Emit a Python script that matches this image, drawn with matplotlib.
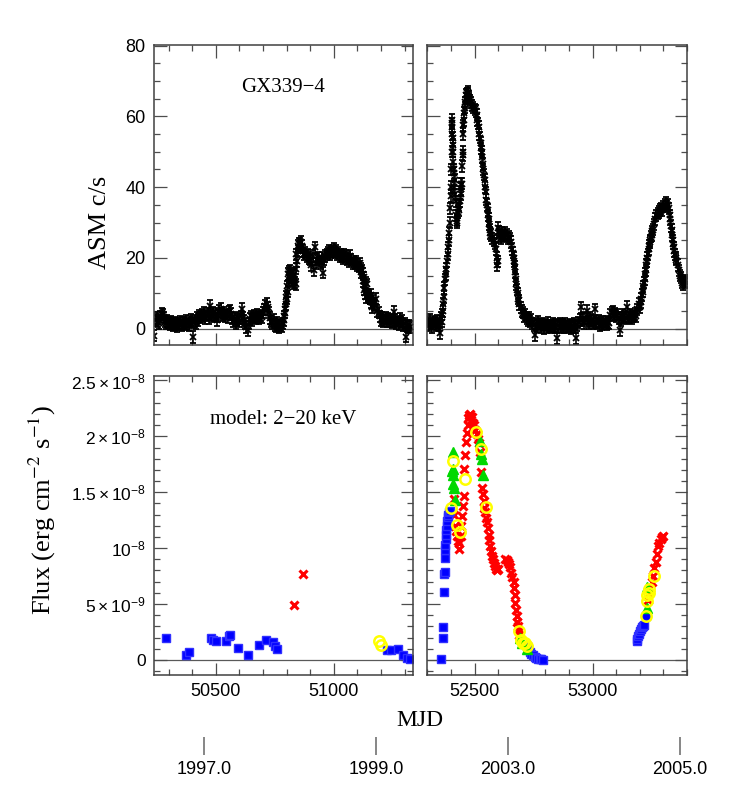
import numpy as np
import matplotlib
matplotlib.use("Agg")
import matplotlib.pyplot as plt
from matplotlib.ticker import MultipleLocator, FixedLocator, FixedFormatter

plt.rcParams['font.family'] = ['Liberation Sans', 'DejaVu Sans']
plt.rcParams['mathtext.fontset'] = 'custom'
plt.rcParams['mathtext.rm'] = 'Liberation Sans'
plt.rcParams['mathtext.it'] = 'Liberation Sans:italic'

# ---- RXTE/ASM light curve, 5 day sampling ----
asm_left_mjd = np.arange(50240, 51326, 5)
asm_left_rate = [
    -2.0, 2.5, 3.0, 2.0, 1.5, 3.5, 4.3, 4.0, 3.2, 2.0,
    1.5, 2.2, 1.8, 1.2, 2.0, 1.5, 1.0, 1.8, 1.3, 0.8,
    1.5, 1.2, 2.0, 1.0, 1.6, 1.8, 1.2, 2.2, 1.5, 1.0,
    2.0, 2.5, 1.8, -2.3, 2.2, 1.5, 3.0, 2.5, 3.8, 3.2,
    4.0, 3.5, 4.5, 3.0, 3.8, 4.2, 3.0, 6.5, 4.0, 3.5,
    4.5, 3.8, 4.2, 2.5, 3.6, 5.0, 5.7, 4.2, 3.8, 4.5,
    3.5, 4.0, 3.2, 4.8, 5.0, 4.2, 3.0, 2.2, 2.8, 1.5,
    2.5, 3.0, 2.0, 3.5, 5.7, 3.0, 2.2, 1.5, 0.5, -0.5,
    1.5, 2.8, 3.5, 2.5, 3.8, 3.2, 2.8, 4.0, 3.5, 3.0,
    3.8, 3.2, 4.5, 5.5, 6.5, 7.0, 6.0, 4.5, 3.0, 2.0,
    1.5, 2.5, 1.0, 0.8, 1.8, 1.2, 0.5, 1.0, 0.8, 1.5,
    3.5, 5.5, 8.5, 10.5, 14.5, 16.5, 15.0, 14.0, 15.5, 13.0,
    12.5, 19.0, 22.0, 24.0, 24.5, 23.5, 22.0, 21.0, 21.5, 20.5,
    21.0, 20.0, 19.5, 18.0, 20.5, 16.5, 23.0, 18.5, 19.5, 20.0,
    19.0, 18.5, 20.0, 15.8, 19.5, 20.5, 21.0, 21.5, 22.0, 21.0,
    21.5, 22.0, 22.5, 21.5, 22.0, 21.0, 21.5, 20.5, 21.0, 20.5,
    20.0, 21.0, 20.5, 19.5, 20.0, 19.0, 20.5, 19.5, 18.5, 19.0,
    18.5, 19.0, 18.0, 17.5, 18.5, 17.0, 16.5, 15.5, 14.5, 13.0,
    12.5, 9.5, 9.0, 8.5, 9.5, 8.0, 7.0, 6.5, 8.5, 5.0,
    4.5, 3.5, 2.5, 3.0, 2.0, 2.5, 3.0, 2.2, 2.8, 2.0,
    2.5, 1.8, 2.2, 4.8, 2.5, 1.5, 2.0, 1.2, 2.8, 1.8,
    2.2, 1.0, 1.5, -2.2, 0.8, 0.5, 1.0, 0.5,
]
# extra daily points where the source changes quickly
asm_left_extra_mjd = [50788, 50792, 50797, 50799, 50802, 50807, 50812, 50817, 50822,
                      50827, 50832, 50838, 50842, 50847, 50852, 50857,
                      51117, 51122, 51127, 51132, 51137, 51152, 51157, 51162]
asm_left_extra_rate = [2.5, 4.5, 7.0, 9.0, 12.0, 15.5, 16.0, 14.5, 13.5,
                       15.0, 12.8, 17.0, 21.0, 23.5, 24.0, 23.0,
                       16.0, 13.5, 11.0, 10.0, 9.0, 8.5, 7.5, 6.0]

asm_right_mjd = np.arange(52300, 53396, 5)
asm_right_rate = [
    2.0, 1.0, 2.5, 1.5, 0.5, 2.0, 1.8, 1.0, 2.2, 1.5,
    1.0, -1.3, 2.0, 5.0, 9.0, 14.0, 17.0, 21.0, 25.0, 30.0,
    40.0, 59.0, 50.0, 42.0, 36.0, 30.0, 33.0, 35.0, 38.0, 41.0,
    50.0, 61.0, 64.0, 66.0, 66.5, 65.5, 64.5, 64.0, 63.0, 62.5,
    62.0, 61.5, 60.5, 58.0, 55.0, 52.5, 50.0, 46.5, 43.5, 40.0,
    36.5, 33.5, 31.0, 28.0, 26.5, 25.5, 25.0, 24.0, 22.5, 18.0,
    28.5, 26.0, 25.5, 27.0, 26.5, 26.0, 27.0, 26.5, 25.5, 26.0,
    25.5, 24.5, 22.5, 20.0, 17.5, 14.0, 11.0, 8.5, 7.0, 6.0,
    5.0, 4.5, 3.5, 4.0, 3.0, 2.5, 3.0, 2.0, 2.5, 1.5,
    1.0, -1.8, 1.5, 0.8, 2.0, 1.2, 0.5, 1.5, 1.0, 0.2,
    1.2, 0.5, 1.8, 0.8, 1.0, 0.3, 1.5, 0.8, 0.5, 1.2,
    -2.7, 0.8, 1.5, 0.5, 1.2, 0.8, 0.3, 1.5, 0.5, 1.0,
    0.6, 1.2, 0.2, 0.8, 1.5, 0.5, -2.7, 1.0, 1.8, 2.5,
    6.0, 2.5, 3.0, 1.5, 2.8, 5.0, 2.0, 1.5, 3.2, 2.5,
    1.5, 2.0, 5.5, 1.8, 1.5, 2.2, 1.0, 1.8, 1.2, 2.0,
    1.5, 2.0, 1.2, 1.8, 1.5, 4.0, 4.5, 4.8, 3.8, 4.2,
    3.5, 4.0, 3.0, -0.4, 2.5, 3.2, 4.0, 3.5, 3.0, 6.2,
    3.5, 3.2, 4.0, 3.0, 3.5, 3.8, 4.2, 3.5, 5.5, 7.0,
    6.0, 7.5, 9.5, 12.0, 14.0, 16.5, 19.0, 21.0, 23.5, 25.0,
    26.5, 28.0, 29.5, 31.0, 32.0, 32.5, 33.0, 33.5, 34.0, 33.5,
    34.5, 35.0, 35.5, 34.5, 35.0, 34.0, 32.0, 28.0, 25.0, 23.0,
    21.0, 19.5, 18.0, 16.5, 15.0, 14.5, 13.0, 12.5, 13.5, 13.0,
]
asm_right_extra_mjd = [52357, 52362, 52367, 52372, 52377, 52382, 52387, 52392, 52397,
                       52399, 52401, 52402, 52403, 52404, 52406, 52407, 52408, 52409,
                       52411, 52412, 52413, 52417, 52422, 52427, 52432, 52437, 52442,
                       52444, 52447, 52449, 52451, 52452, 52453, 52457, 52462, 52467,
                       52472, 52477,
                       52512, 52517, 52522, 52527, 52532, 52537, 52542, 52547, 52552,
                       52557, 52562, 52567, 52593, 52597, 52603,
                       52662, 52667, 52672, 52677, 52682, 52687,
                       53207, 53212, 53217, 53222, 53227, 53232, 53237, 53242, 53247,
                       53252, 53327, 53332, 53337, 53342, 53347, 53352]
asm_right_extra_rate = [3.0, 4.0, 7.0, 11.5, 15.5, 19.0, 23.0, 27.0, 34.0,
                        37.5, 45.0, 50.0, 55.0, 58.0, 57.0, 54.0, 52.0, 47.0,
                        45.0, 44.0, 40.0, 38.0, 32.0, 30.5, 33.5, 36.0, 39.5,
                        41.0, 46.0, 49.0, 55.0, 57.5, 59.0, 62.5, 65.0, 66.5,
                        67.0, 65.0,
                        59.0, 57.0, 54.0, 51.0, 48.5, 45.0, 42.0, 38.5, 35.0,
                        32.0, 29.5, 27.0, 20.0, 19.0, 27.5,
                        21.5, 19.0, 16.0, 12.5, 10.0, 8.0,
                        8.5, 10.5, 13.0, 15.5, 18.0, 20.0, 22.5, 24.5, 26.0,
                        27.5, 31.0, 29.0, 26.5, 24.0, 22.0, 20.0]
asm_err = 1.6

# ---- model flux 2-20 keV, units of 1e-9 erg/cm2/s ----
blue_mjd = [50289, 50374, 50387, 50480, 50490, 50500, 50544, 50554, 50561,
            50596, 50636, 50684, 50713, 50744, 50751, 50758,
            51226, 51244, 51272, 51295, 51309, 51323,
            52358, 52365, 52366, 52369, 52372, 52373, 52374, 52375, 52376,
            52377, 52378, 52379, 52381, 52383, 52386, 52389, 52393, 52397,
            52720, 52727, 52733, 52740, 52747, 52754, 52761, 52768, 52775,
            52782, 52790,
            53187, 53190, 53194, 53197, 53201, 53205, 53210, 53215, 53219, 53227]
blue_flux = [2.0, 0.45, 0.7, 2.0, 1.8, 1.65, 1.65, 2.1, 2.2,
             1.1, 0.45, 1.3, 1.75, 1.6, 1.25, 0.95,
             0.87, 0.87, 0.96, 0.48, 0.21, 0.06,
             0.06, 1.95, 2.9, 6.1, 7.7, 7.9, 9.1, 9.8, 10.3,
             10.8, 11.2, 11.6, 12.0, 12.4, 12.8, 13.0, 13.2, 13.3,
             1.2, 0.95, 0.75, 0.55, 0.4, 0.28, 0.18, 0.12, 0.08,
             0.05, 0.03,
             1.65, 1.85, 2.1, 2.35, 2.55, 2.75, 2.9, 3.0, 3.1, 3.95]

red_mjd = [50830, 50871,
           52411, 52414, 52418, 52421, 52425, 52428, 52432, 52435, 52440, 52443,
           52446, 52449, 52454, 52456, 52461, 52465, 52468, 52470, 52473, 52476,
           52479, 52482, 52486, 52490, 52494, 52498, 52503, 52508, 52513, 52517,
           52521, 52528, 52531, 52534, 52538, 52541, 52545, 52548, 52552, 52555,
           52559, 52562, 52566, 52570, 52574, 52577, 52581, 52585, 52589, 52593,
           52598, 52630, 52635, 52640, 52645, 52650, 52655, 52660, 52665, 52668,
           52670, 52672, 52675, 52678, 52680, 52683, 52687, 52690,
           53236, 53240, 53245, 53250, 53256, 53262, 53268, 53272, 53276, 53282,
           53288, 53295, 53300]
red_flux = [4.95, 7.7,
            14.4, 13.0, 12.0, 11.5, 11.1, 10.6, 9.9, 10.5, 11.1, 12.0,
            12.9, 13.8, 14.7, 17.1, 18.3, 19.5, 20.3, 21.0, 21.6, 21.9,
            22.0, 21.8, 21.5, 21.7, 21.2, 21.0, 20.6, 20.2, 19.8, 19.4,
            18.6, 16.8, 15.4, 14.8, 14.2, 13.6, 13.2, 12.7, 12.3, 11.8,
            11.2, 10.7, 10.2, 9.7, 9.3, 9.0, 8.7, 8.4, 8.1, 8.0,
            8.1, 9.0, 8.9, 8.8, 8.6, 8.3, 7.8, 7.4, 7.0, 6.4,
            5.8, 5.1, 4.5, 3.9, 3.4, 3.0, 2.6, 2.2,
            5.4, 6.0, 6.4, 7.0, 7.5, 8.2, 8.8, 9.5, 10.2, 10.5,
            10.8, 11.0, 11.1]

green_mjd = [52404, 52407, 52407, 52408, 52408, 52411, 52418,
             52524, 52527, 52530, 52535, 52694, 52701, 52722, 53229, 53232]
green_flux = [16.9, 17.1, 15.7, 18.6, 16.5, 15.4, 14.3,
              19.6, 18.4, 18.0, 16.5, 1.95, 1.5, 0.96, 4.6, 6.5]

yellow_mjd = [51192, 51202, 52400, 52410, 52425, 52437, 52458, 52504, 52527,
              52550, 52687, 52698, 52705, 52715, 52722,
              53227, 53229, 53232, 53237, 53240, 53261]
yellow_flux = [1.65, 1.35, 13.6, 17.8, 12.1, 11.45, 16.2, 20.4, 18.9,
               13.7, 2.6, 1.8, 1.55, 1.5, 1.2,
               3.95, 5.25, 5.85, 6.0, 6.35, 7.5]

flux_ticks = [0, 5e-9, 1e-8, 1.5e-8, 2e-8, 2.5e-8]
flux_tick_labels = ['0', r'$5\times10^{-9}$', r'$10^{-8}$', r'$1.5\times10^{-8}$',
                    r'$2\times10^{-8}$', r'$2.5\times10^{-8}$']

year_mjd = [50449, 51179, 52640, 53371]
year_labels = ['1997.0', '1999.0', '2003.0', '2005.0']

left_lim = (50238, 51336)
right_lim = (52298, 53400)

serif = ['Liberation Serif', 'DejaVu Serif']
tick_col = '0.3'

fig = plt.figure(figsize=(7.36, 7.92), dpi=100)
W = 736.0
H = 792.0


def px_axes(x0, x1, ytop, ybot):
    return fig.add_axes([x0 / W, (H - ybot) / H, (x1 - x0) / W, (ybot - ytop) / H])


ax_tl = px_axes(154, 413, 44.5, 345)
ax_tr = px_axes(427, 687, 44.5, 345)
ax_bl = px_axes(154, 413, 376, 675)
ax_br = px_axes(427, 687, 376, 675)


def style(ax, xlim, top):
    ax.set_xlim(*xlim)
    ax.xaxis.set_major_locator(MultipleLocator(500))
    ax.xaxis.set_minor_locator(MultipleLocator(100))
    if top:
        ax.set_ylim(-4.6, 80.3)
        ax.yaxis.set_major_locator(MultipleLocator(20))
        ax.yaxis.set_minor_locator(MultipleLocator(5))
    else:
        ax.set_ylim(-1.35e-9, 2.54e-8)
        ax.yaxis.set_major_locator(FixedLocator(flux_ticks))
        ax.yaxis.set_major_formatter(FixedFormatter(flux_tick_labels))
        ax.yaxis.set_minor_locator(MultipleLocator(1e-9))
    ax.tick_params(which='both', direction='in', top=True, right=True,
                   color=tick_col, width=0.9, labelsize=13, pad=6)
    ax.tick_params(which='major', length=9)
    ax.tick_params(which='minor', length=4.5)
    for s in ax.spines.values():
        s.set_color('0.25')
        s.set_linewidth(1.1)
    ax.axhline(0, color='0.35', lw=0.9, zorder=0)


for ax, lim in [(ax_tl, left_lim), (ax_tr, right_lim)]:
    style(ax, lim, True)
    ax.tick_params(labelbottom=False)
for ax, lim in [(ax_bl, left_lim), (ax_br, right_lim)]:
    style(ax, lim, False)
for ax in (ax_tr, ax_br):
    ax.tick_params(labelleft=False)

# ASM light curves
asm_sets = [
    (ax_tl, asm_left_mjd, asm_left_rate),
    (ax_tl, asm_left_extra_mjd, asm_left_extra_rate),
    (ax_tr, asm_right_mjd, asm_right_rate),
    (ax_tr, asm_right_extra_mjd, asm_right_extra_rate),
]
for ax, t, r in asm_sets:
    ax.errorbar(t, r, yerr=asm_err, fmt='x', color='k', ms=4, mew=1.3,
                elinewidth=1.2, capsize=2.3, capthick=1.2)

# flux points
for ax in (ax_bl, ax_br):
    ax.plot(np.array(red_mjd), np.array(red_flux) * 1e-9, 'x', color='#ff0000',
            ms=6, mew=2.2, ls='none')
    ax.plot(np.array(blue_mjd), np.array(blue_flux) * 1e-9, 's', color='#0000ff',
            ms=5.5, mec='#3030ff', ls='none')
    ax.plot(np.array(green_mjd), np.array(green_flux) * 1e-9, '^', color='#00d800',
            ms=6.5, ls='none')
    ax.plot(np.array(yellow_mjd), np.array(yellow_flux) * 1e-9, 'o', mfc='none',
            mec='#ffff00', ms=7.5, mew=1.8, ls='none')

for lab in ax_bl.get_yticklabels():
    lab.set_fontsize(12.5)

# year axis below the MJD axis
for ax in (ax_bl, ax_br):
    sec = ax.secondary_xaxis(-0.207)
    for s in sec.spines.values():
        s.set_visible(False)
    lo, hi = ax.get_xlim()
    yrs = [(m, l) for m, l in zip(year_mjd, year_labels) if lo <= m <= hi]
    sec.set_xticks([m for m, _ in yrs])
    sec.set_xticklabels([l for _, l in yrs])
    sec.xaxis.set_minor_locator(FixedLocator([]))
    sec.tick_params(direction='out', length=13, width=1.1, color='0.4',
                    labelsize=13, pad=4)

ax_tl.text(0.498, 0.857, 'GX339\u22124', transform=ax_tl.transAxes, ha='center',
           va='center', fontsize=15, family=serif)
ax_bl.text(0.498, 0.853, 'model: 2\u221220 keV', transform=ax_bl.transAxes, ha='center',
           va='center', fontsize=15, family=serif)

fig.text(100 / W, 1 - 222 / H, 'ASM c/s', rotation=90, ha='center', va='center',
         fontsize=19, family=serif)
fig.text(42 / W, 1 - 510 / H, r'Flux (erg cm$^{-2}$ s$^{-1}$)', rotation=90,
         ha='center', va='center', fontsize=19, family=serif, math_fontfamily='stix')
fig.text(420 / W, 1 - 720 / H, 'MJD', ha='center', va='center', fontsize=17, family=serif)

fig.savefig('out.png', dpi=100)
